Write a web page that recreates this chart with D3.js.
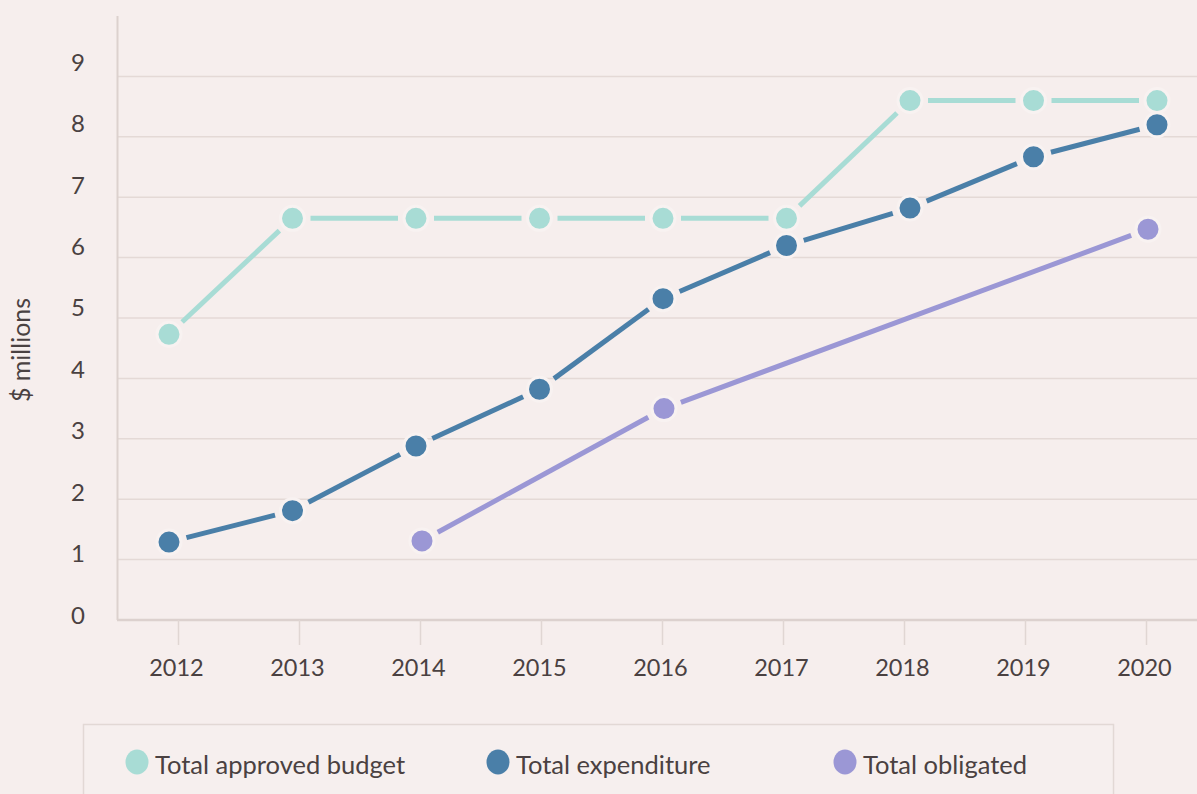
<!DOCTYPE html>
<html>
<head>
<meta charset="utf-8">
<script src="https://cdn.jsdelivr.net/npm/d3@7"></script>
<style>
  body { margin: 0; background: #f6eeed; }
  svg { display: block; font-family: Lato, "Noto Sans", sans-serif; }
</style>
</head>
<body>
<div id="chart"></div>
<script>
// data
var years = [2012, 2013, 2014, 2015, 2016, 2017, 2018, 2019, 2020]
var approvedBudget = [4.73, 6.65, 6.65, 6.65, 6.65, 6.65, 8.60, 8.60, 8.60]
var expenditure = [1.29, 1.81, 2.88, 3.82, 5.32, 6.20, 6.82, 7.67, 8.20]
var obligatedYears = [2014, 2016, 2020]
var obligated = [1.31, 3.50, 6.47]
var yTicks = [0, 1, 2, 3, 4, 5, 6, 7, 8, 9]
var legendLabels = ["Total approved budget", "Total expenditure", "Total obligated"]

var colors = {
  approved: "#a8dcd5",
  expenditure: "#4a7fa8",
  obligated: "#9b97d5"
}
var bg = "#f6eeed",
    textColor = "#4a4141",
    gridColor = "#e4d9d6"

var width = 1197, height = 794

var svg = d3.select("#chart")
  .append("svg")
  .attr("width", width)
  .attr("height", height)

svg.append("rect").attr("width", width).attr("height", height).attr("fill", bg)

// scales
var x = d3.scaleLinear().domain([2012, 2020]).range([178, 1146])      // axis ticks + obligated
var xPts = d3.scaleLinear().domain([2012, 2020]).range([169, 1157])   // budget / expenditure points
var y = d3.scaleLinear().domain([0, 10]).range([620, 16])
var yLab = d3.scaleLinear().domain([0, 9]).range([615, 62])

// gridlines
svg.append("g")
  .selectAll("line")
  .data(yTicks.filter(d => d > 0))
  .enter()
  .append("line")
  .attr("x1", 118).attr("x2", width)
  .attr("y1", d => y(d)).attr("y2", d => y(d))
  .attr("stroke", gridColor)
  .attr("stroke-width", 1.5)

// axis lines
svg.append("line")
  .attr("x1", 117.5).attr("x2", 117.5)
  .attr("y1", y(10)).attr("y2", y(0))
  .attr("stroke", "#dcd1ce").attr("stroke-width", 2)
svg.append("line")
  .attr("x1", 117).attr("x2", width)
  .attr("y1", y(0)).attr("y2", y(0))
  .attr("stroke", "#dcd1ce").attr("stroke-width", 2.5)

// y labels
svg.append("g")
  .selectAll("text")
  .data(yTicks)
  .enter()
  .append("text")
  .attr("x", 85)
  .attr("y", d => yLab(d))
  .attr("dy", "0.36em")
  .attr("text-anchor", "end")
  .attr("fill", textColor)
  .style("font-size", "24px")
  .text(d => d)

svg.append("text")
  .attr("transform", "translate(30,350) rotate(-90)")
  .attr("text-anchor", "middle")
  .attr("fill", textColor)
  .style("font-size", "25px")
  .text("$ millions")

// x axis
var xAxis = svg.append("g")
  .attr("transform", "translate(0," + y(0) + ")")
  .call(d3.axisBottom(x).tickValues(years).tickFormat(d3.format("d")).tickSize(25).tickPadding(14))
xAxis.select(".domain").remove()
xAxis.selectAll(".tick line").attr("stroke", "#e0d6d3").attr("stroke-width", 1.5)
xAxis.selectAll(".tick text")
  .attr("fill", textColor)
  .attr("dx", -2)
  .style("font-size", "23.5px")
  .style("font-family", "Lato, 'Noto Sans', sans-serif")

// series
var series = [
  {key: "approved", pts: years.map((yr, i) => [xPts(yr), y(approvedBudget[i])])},
  {key: "expenditure", pts: years.map((yr, i) => [xPts(yr), y(expenditure[i])])},
  {key: "obligated", pts: obligatedYears.map((yr, i) => [x(yr) + 2, y(obligated[i])])}
]

var r = 12, gap = 6

series.forEach(function(s) {
  var g = svg.append("g")
  // line segments, cut short near each marker
  for (var i = 1; i < s.pts.length; i++) {
    var a = s.pts[i - 1], b = s.pts[i]
    var dx = b[0] - a[0], dy = b[1] - a[1]
    var len = Math.sqrt(dx * dx + dy * dy)
    var ux = dx / len, uy = dy / len
    var off = r + gap
    g.append("line")
      .attr("x1", a[0] + ux * off).attr("y1", a[1] + uy * off)
      .attr("x2", b[0] - ux * off).attr("y2", b[1] - uy * off)
      .attr("stroke", colors[s.key])
      .attr("stroke-width", 5)
  }
  g.selectAll("circle")
    .data(s.pts)
    .enter()
    .append("circle")
    .attr("cx", d => d[0])
    .attr("cy", d => d[1])
    .attr("r", r)
    .attr("fill", colors[s.key])
    .attr("stroke", "#f8f2f1")
    .attr("stroke-width", 3)
})

// legend
svg.append("rect")
  .attr("x", 83.5).attr("y", 724.5)
  .attr("width", 1030).attr("height", 120)
  .attr("fill", "#f6efee")
  .attr("stroke", "#e2d8d5")
  .attr("stroke-width", 1.5)

var legendX = [137, 498, 845]
var legendKeys = ["approved", "expenditure", "obligated"]
var lg = svg.append("g")
  .selectAll("g")
  .data(legendLabels)
  .enter()
  .append("g")
  .attr("transform", (d, i) => "translate(" + legendX[i] + ",762)")
lg.append("ellipse")
  .attr("rx", 11.5).attr("ry", 12.5)
  .attr("fill", (d, i) => colors[legendKeys[i]])
lg.append("text")
  .attr("x", 18)
  .attr("y", 3)
  .attr("dy", "0.35em")
  .attr("fill", textColor)
  .style("font-size", "25.5px")
  .text(d => d)
</script>
</body>
</html>
